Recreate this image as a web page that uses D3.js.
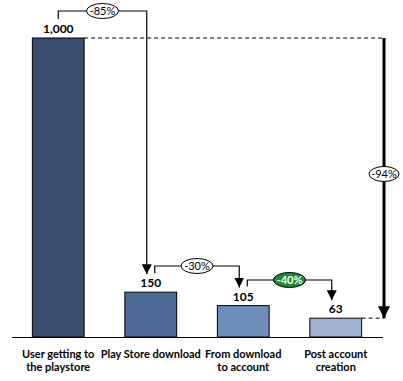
<!DOCTYPE html>
<html>
<head>
<meta charset="utf-8">
<script src="https://cdn.jsdelivr.net/npm/d3@7"></script>
<style>
  body { margin: 0; background: #fff; }
  text { font-family: Lato, "Open Sans", sans-serif; }
</style>
</head>
<body>
<script>
// funnel steps
const steps = [["User getting to", "the playstore"], ["Play Store download"], ["From download", "to account"], ["Post account", "creation"]];
const users = [1000, 150, 105, 63];
const barColors = ["#3a4d6f", "#4e6b98", "#6f8dba", "#a0b1cf"];

const w = 403, h = 381;
const base = 337;

const svg = d3.select("body").append("svg")
  .attr("width", w)
  .attr("height", h);

const defs = svg.append("defs");
defs.append("marker")
  .attr("id", "tip")
  .attr("viewBox", "0 0 10 10")
  .attr("refX", 10).attr("refY", 5)
  .attr("markerWidth", 10).attr("markerHeight", 10)
  .attr("markerUnits", "userSpaceOnUse")
  .attr("orient", "auto")
  .append("path").attr("d", "M0,0 L10,5 L0,10 Z").attr("fill", "#000");
defs.append("marker")
  .attr("id", "tipBig")
  .attr("viewBox", "0 0 10 10")
  .attr("refX", 10).attr("refY", 5)
  .attr("markerWidth", 12).attr("markerHeight", 12)
  .attr("markerUnits", "userSpaceOnUse")
  .attr("orient", "auto")
  .append("path").attr("d", "M0,0 L10,5 L0,10 Z").attr("fill", "#000");

const x = d3.scaleBand()
  .domain(d3.range(users.length))
  .range([12, 382])
  .paddingInner(0.44)
  .paddingOuter(0.22);

const y = d3.scaleLinear()
  .domain([0, 1000])
  .range([base, 38]);

const cx = i => x(i) + x.bandwidth() / 2;
const pct = (a, b) => Math.round((b - a) / a * 100) + "%";

// bars
svg.selectAll("rect.bar")
  .data(users)
  .enter()
  .append("rect")
  .attr("class", "bar")
  .attr("x", (d, i) => x(i))
  .attr("y", d => y(d))
  .attr("width", x.bandwidth())
  .attr("height", d => base - y(d))
  .attr("fill", (d, i) => barColors[i])
  .attr("stroke", "#000")
  .attr("stroke-width", 1);

// baseline
svg.append("line")
  .attr("x1", 12).attr("x2", 383)
  .attr("y1", base + 0.5).attr("y2", base + 0.5)
  .attr("stroke", "#000");

// value labels
svg.selectAll("text.val")
  .data(users)
  .enter()
  .append("text")
  .attr("class", "val")
  .attr("x", (d, i) => cx(i))
  .attr("y", d => y(d) - 5)
  .attr("text-anchor", "middle")
  .attr("font-size", "12px")
  .attr("font-weight", "bold")
  .attr("fill", "#000")
  .text(d => d3.format(",")(d));

// category labels
const cat = svg.selectAll("text.cat")
  .data(steps)
  .enter()
  .append("text")
  .attr("class", "cat")
  .attr("x", (d, i) => cx(i))
  .attr("y", 358)
  .attr("text-anchor", "middle")
  .attr("font-size", "11px")
  .attr("font-weight", "bold")
  .attr("fill", "#000");
cat.selectAll("tspan")
  .data(d => d)
  .enter()
  .append("tspan")
  .attr("x", function() { return d3.select(this.parentNode).attr("x"); })
  .attr("dy", (d, j) => j === 0 ? 0 : 13)
  .text(d => d);

// step-to-step connectors
const topY = [11, 266, 280];
for (let i = 0; i < users.length - 1; i++) {
  const x0 = i === 0 ? cx(i) : cx(i) + 4;
  const x1 = cx(i + 1) - 4;
  const yTop = topY[i];
  const y0 = y(users[i]) - 19;
  const y1 = y(users[i + 1]) - 18;
  svg.append("path")
    .attr("d", `M${x0},${y0} V${yTop} H${x1} V${y1}`)
    .attr("fill", "none")
    .attr("stroke", "#000")
    .attr("stroke-width", 1.2)
    .attr("marker-end", "url(#tip)");
  const green = i === 2;
  const mx = (x0 + x1) / 2;
  svg.append("ellipse")
    .attr("cx", mx).attr("cy", yTop)
    .attr("rx", 16).attr("ry", 7.5)
    .attr("fill", green ? "#1e8c37" : "#fff")
    .attr("stroke", "#000")
    .attr("stroke-width", 1);
  svg.append("text")
    .attr("x", mx).attr("y", yTop + 4)
    .attr("text-anchor", "middle")
    .attr("font-size", "11px")
    .attr("font-weight", green ? "bold" : "normal")
    .attr("fill", green ? "#fff" : "#000")
    .text(pct(users[i], users[i + 1]));
}

// overall drop
const last = users.length - 1;
const ax = 384;
svg.append("line")
  .attr("x1", x(0) + x.bandwidth()).attr("x2", ax)
  .attr("y1", y(users[0])).attr("y2", y(users[0]))
  .attr("stroke", "#000").attr("stroke-dasharray", "4,3");
svg.append("line")
  .attr("x1", x(last) + x.bandwidth()).attr("x2", ax)
  .attr("y1", y(users[last])).attr("y2", y(users[last]))
  .attr("stroke", "#000").attr("stroke-dasharray", "4,3");
svg.append("line")
  .attr("x1", ax).attr("x2", ax)
  .attr("y1", y(users[0])).attr("y2", y(users[last]))
  .attr("stroke", "#000")
  .attr("stroke-width", 3)
  .attr("marker-end", "url(#tipBig)");
const my = 174;
svg.append("ellipse")
  .attr("cx", ax).attr("cy", my)
  .attr("rx", 15).attr("ry", 7.5)
  .attr("fill", "#fff").attr("stroke", "#000");
svg.append("text")
  .attr("x", ax).attr("y", my + 4)
  .attr("text-anchor", "middle")
  .attr("font-size", "11px")
  .attr("fill", "#000")
  .text(pct(users[0], users[last]));
</script>
</body>
</html>
